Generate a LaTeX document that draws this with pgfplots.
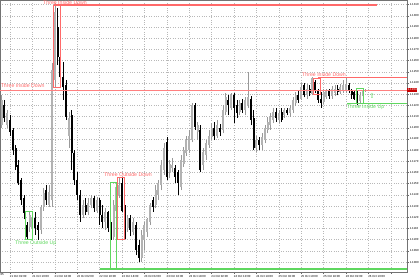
\documentclass[border=0pt]{standalone}
\usepackage{pgfplots}
\pgfplotsset{compat=1.18}
\usepackage{pgfplotstable}
\usepackage{fontspec}
\setmainfont{Liberation Sans}
\newfontfamily\symfont{DejaVu Sans}
\definecolor{pred}{RGB}{255,105,105}
\definecolor{pgreen}{RGB}{95,215,95}
\definecolor{boxred}{RGB}{200,0,0}

\pgfplotstableread{
i O H L C
0 1.1202 1.1229 1.1200 1.1225
2 1.1202 1.1216 1.1200 1.1213
10 1.1111 1.1126 1.1107 1.1122
11 1.1110 1.1123 1.1107 1.1119
14 1.1109 1.1131 1.1105 1.1129
15 1.1129 1.1146 1.1126 1.1142
17 1.1131 1.1149 1.1129 1.1143
18 1.1135 1.1258 1.1129 1.1252
19 1.1243 1.1310 1.1236 1.1303
24 1.1193 1.1214 1.1182 1.1209
29 1.1122 1.1135 1.1119 1.1131
31 1.1125 1.1137 1.1122 1.1133
32 1.1131 1.1140 1.1128 1.1137
34 1.1126 1.1138 1.1124 1.1135
37 1.1116 1.1128 1.1109 1.1125
40 1.1102 1.1135 1.1100 1.1131
41 1.1126 1.1151 1.1122 1.1147
42 1.1140 1.1155 1.1137 1.1149
45 1.1110 1.1122 1.1107 1.1119
47 1.1107 1.1119 1.1104 1.1116
50 1.1084 1.1109 1.1080 1.1104
51 1.1100 1.1116 1.1091 1.1113
52 1.1107 1.1119 1.1102 1.1118
53 1.1116 1.1133 1.1113 1.1131
55 1.1131 1.1149 1.1128 1.1144
56 1.1140 1.1153 1.1135 1.1151
57 1.1149 1.1171 1.1144 1.1167
58 1.1162 1.1186 1.1158 1.1182
60 1.1160 1.1171 1.1155 1.1168
61 1.1164 1.1173 1.1160 1.1167
64 1.1147 1.1176 1.1144 1.1171
65 1.1168 1.1183 1.1165 1.1180
66 1.1177 1.1193 1.1175 1.1189
67 1.1180 1.1198 1.1177 1.1193
68 1.1189 1.1222 1.1187 1.1220
70 1.1196 1.1205 1.1189 1.1202
72 1.1167 1.1182 1.1162 1.1178
73 1.1176 1.1189 1.1171 1.1186
74 1.1185 1.1198 1.1182 1.1193
75 1.1192 1.1204 1.1189 1.1200
77 1.1193 1.1207 1.1191 1.1202
79 1.1198 1.1220 1.1195 1.1216
80 1.1214 1.1231 1.1211 1.1227
82 1.1218 1.1231 1.1216 1.1229
85 1.1214 1.1225 1.1211 1.1222
87 1.1216 1.1227 1.1211 1.1225
88 1.1220 1.1250 1.1218 1.1227
91 1.1182 1.1193 1.1178 1.1189
93 1.1185 1.1195 1.1180 1.1192
94 1.1189 1.1202 1.1186 1.1200
95 1.1198 1.1210 1.1195 1.1205
96 1.1202 1.1213 1.1198 1.1210
97 1.1207 1.1218 1.1204 1.1214
99 1.1207 1.1216 1.1204 1.1213
101 1.1211 1.1218 1.1209 1.1216
103 1.1213 1.1220 1.1210 1.1218
104 1.1216 1.1227 1.1213 1.1225
105 1.1222 1.1232 1.1219 1.1229
107 1.1226 1.1240 1.1225 1.1236
109 1.1229 1.1239 1.1226 1.1235
111 1.1230 1.1245 1.1229 1.1244
115 1.1223 1.1235 1.1221 1.1232
116 1.1227 1.1235 1.1226 1.1233
118 1.1228 1.1237 1.1226 1.1235
119 1.1231 1.1238 1.1228 1.1235
121 1.1232 1.1239 1.1230 1.1236
122 1.1234 1.1243 1.1231 1.1238
123 1.1234 1.1244 1.1231 1.1239
128 1.1224 1.1232 1.1222 1.1229
129 1.1228 1.1235 1.1226 1.1234
130 1.1233 1.1235 1.1232 1.1234
}\bull

\pgfplotstableread{
i O H L C
1 1.1220 1.1225 1.1205 1.1209
3 1.1207 1.1211 1.1193 1.1196
4 1.1198 1.1200 1.1176 1.1180
5 1.1182 1.1185 1.1162 1.1165
6 1.1167 1.1171 1.1149 1.1151
7 1.1153 1.1155 1.1131 1.1135
8 1.1137 1.1140 1.1118 1.1124
9 1.1113 1.1116 1.1100 1.1102
12 1.1119 1.1125 1.1104 1.1110
13 1.1113 1.1116 1.1100 1.1109
16 1.1144 1.1149 1.1131 1.1135
20 1.1290 1.1307 1.1256 1.1263
21 1.1263 1.1269 1.1243 1.1245
22 1.1245 1.1259 1.1225 1.1236
23 1.1238 1.1243 1.1207 1.1210
25 1.1211 1.1216 1.1162 1.1177
26 1.1177 1.1180 1.1149 1.1153
27 1.1153 1.1160 1.1135 1.1140
28 1.1140 1.1144 1.1116 1.1122
30 1.1131 1.1137 1.1122 1.1125
33 1.1137 1.1139 1.1125 1.1128
35 1.1135 1.1137 1.1113 1.1122
36 1.1122 1.1131 1.1110 1.1116
38 1.1125 1.1126 1.1107 1.1110
39 1.1113 1.1116 1.1100 1.1104
43 1.1151 1.1156 1.1125 1.1126
44 1.1126 1.1131 1.1101 1.1113
46 1.1119 1.1122 1.1103 1.1109
48 1.1113 1.1116 1.1086 1.1091
49 1.1095 1.1100 1.1080 1.1084
54 1.1135 1.1138 1.1125 1.1129
59 1.1187 1.1192 1.1153 1.1156
62 1.1164 1.1167 1.1151 1.1156
63 1.1160 1.1162 1.1140 1.1151
69 1.1220 1.1222 1.1198 1.1201
71 1.1198 1.1202 1.1160 1.1162
76 1.1200 1.1205 1.1189 1.1193
78 1.1200 1.1203 1.1193 1.1196
81 1.1225 1.1229 1.1211 1.1220
83 1.1229 1.1231 1.1204 1.1218
84 1.1220 1.1225 1.1209 1.1213
86 1.1222 1.1226 1.1213 1.1216
89 1.1226 1.1228 1.1202 1.1207
90 1.1209 1.1216 1.1180 1.1182
92 1.1189 1.1192 1.1180 1.1185
98 1.1214 1.1218 1.1205 1.1209
100 1.1214 1.1218 1.1205 1.1207
102 1.1216 1.1218 1.1211 1.1213
106 1.1229 1.1234 1.1222 1.1225
108 1.1238 1.1240 1.1227 1.1229
110 1.1235 1.1238 1.1228 1.1231
112 1.1241 1.1243 1.1231 1.1234
113 1.1234 1.1235 1.1222 1.1225
114 1.1226 1.1232 1.1218 1.1222
117 1.1233 1.1235 1.1226 1.1228
120 1.1235 1.1238 1.1229 1.1232
124 1.1238 1.1240 1.1231 1.1234
125 1.1234 1.1235 1.1226 1.1229
126 1.1232 1.1234 1.1225 1.1226
127 1.1232 1.1234 1.1220 1.1222
}\bear

\begin{document}
\begin{tikzpicture}
\begin{axis}[
  at={(0pt,8pt)}, anchor=south west,
  width=407pt, height=272pt, scale only axis,
  xmin=-0.571, xmax=144.79, ymin=1.10711, ymax=1.13141,
  clip=false,
  axis line style={black!55, line width=0.5pt},
  xtick={3,11,...,139},
  xticklabels={21 Oct 02:00,21 Oct 10:00,21 Oct 18:00,22 Oct 02:00,22 Oct 10:00,22 Oct 18:00,23 Oct 02:00,23 Oct 10:00,23 Oct 18:00,24 Oct 02:00,24 Oct 10:00,24 Oct 18:00,25 Oct 02:00,25 Oct 10:00,25 Oct 18:00,26 Oct 02:00,26 Oct 10:00,{}},
  ytick={1.108,1.109,1.110,1.111,1.112,1.113,1.114,1.115,1.116,1.117,1.118,1.119,1.120,1.121,1.122,1.123,1.124,1.125,1.126,1.127,1.128,1.129,1.130,1.131},
  scaled y ticks=false,
  xtick pos=left, ytick pos=right,
  yticklabel pos=right,
  tick align=outside, major tick length=2pt,
  tick style={black!60, line width=0.4pt},
  grid=major, major grid style={black!28, dotted, line width=0.4pt},
  xticklabel style={font=\fontsize{2.9}{3.2}\selectfont, anchor=north west, inner sep=0pt, yshift=-1.2pt, xshift=-0.3pt},
  yticklabel style={font=\fontsize{2.9}{3.2}\selectfont, anchor=west, inner sep=0pt, xshift=0.6pt,
    /pgf/number format/.cd, fixed, fixed zerofill, precision=4, assume math mode=true},
]
% wicks
\addplot[draw=none, mark=none, forget plot, error bars/.cd, y dir=plus, y explicit, error mark=none,
  error bar style={draw=black!40, line width=0.55pt}]
  table[x=i, y=L, y error plus expr=\thisrow{H}-\thisrow{L}] {\bull};
\addplot[draw=none, mark=none, forget plot, error bars/.cd, y dir=plus, y explicit, error mark=none,
  error bar style={draw=black, line width=0.55pt}]
  table[x=i, y=L, y error plus expr=\thisrow{H}-\thisrow{L}] {\bear};
% bodies
\addplot[draw=none, mark=none, forget plot, error bars/.cd, y dir=plus, y explicit, error mark=none,
  error bar style={draw=black!30, line width=2pt}]
  table[x=i, y=O, y error plus expr=\thisrow{C}-\thisrow{O}] {\bull};
\addplot[draw=none, mark=none, forget plot, error bars/.cd, y dir=plus, y explicit, error mark=none,
  error bar style={draw=black, line width=2pt}]
  table[x=i, y=C, y error plus expr=\thisrow{O}-\thisrow{C}] {\bear};

% pattern lines
\draw[pred, line width=1.6pt] (axis cs:18.7,1.13096) -- (axis cs:134.1,1.13096);
\draw[pred!85, line width=0.7pt] (axis cs:-0.571,1.12337) -- (axis cs:144.79,1.12337);
\draw[pred, line width=1.4pt] (axis cs:113,1.12448) -- (axis cs:144.79,1.12448);
\draw[pgreen, line width=1.1pt] (axis cs:123.4,1.12220) -- (axis cs:144.79,1.12220);
\draw[pgreen, line width=1.4pt] (axis cs:35.1,1.10738) -- (axis cs:144.79,1.10738);
% rectangles
\draw[pred, line width=0.7pt] (axis cs:18.36,1.13096) rectangle (axis cs:20.86,1.12363);
\draw[pgreen, line width=0.7pt] (axis cs:8.36,1.11255) rectangle (axis cs:10.86,1.11005);
\draw[pgreen, line width=0.7pt] (axis cs:38.7,1.11514) rectangle (axis cs:40.86,1.10738);
\draw[pred, line width=0.7pt] (axis cs:41.21,1.11559) rectangle (axis cs:43.71,1.11005);
\draw[pred, line width=0.7pt] (axis cs:111.2,1.12444) rectangle (axis cs:113.7,1.12301);
\draw[pgreen, line width=0.7pt] (axis cs:126.6,1.12354) rectangle (axis cs:129.1,1.12220);
% labels
\begin{scope}[every node/.style={font=\fontsize{5.2}{6}\selectfont, inner sep=0pt}]
\node[pred, anchor=base west] at (axis cs:14.79,1.13104) {Three Inside Down};
\node[pred, anchor=base west] at (axis cs:-0.35,1.1236) {Three Inside Down};
\node[pgreen, anchor=north west] at (axis cs:4.79,1.10990) {Three Outside Up};
\node[pred, anchor=base west] at (axis cs:36.57,1.11565) {Three Outside Down};
\node[pred, anchor=base west] at (axis cs:107.3,1.12455) {Three Inside Down};
\node[pgreen, anchor=north west] at (axis cs:123.36,1.12210) {Three Inside Up};
\end{scope}
\node[pgreen, font=\symfont\fontsize{7}{7}\selectfont, inner sep=0pt] at (axis cs:132.3,1.12283) {⇧};
\node[anchor=north east, font=\fontsize{2.9}{3.2}\selectfont, inner sep=0pt, yshift=-1.2pt] at (axis cs:0.86,1.10711) {05};
\node[anchor=west, fill=boxred, text=white, font=\fontsize{2.9}{3.2}\selectfont, inner sep=0.6pt] at (axis cs:144.79,1.12337) {1.1234};
\end{axis}
\pgfresetboundingbox
\useasboundingbox (0,0) rectangle (420pt,280pt);
\end{tikzpicture}
\end{document}
